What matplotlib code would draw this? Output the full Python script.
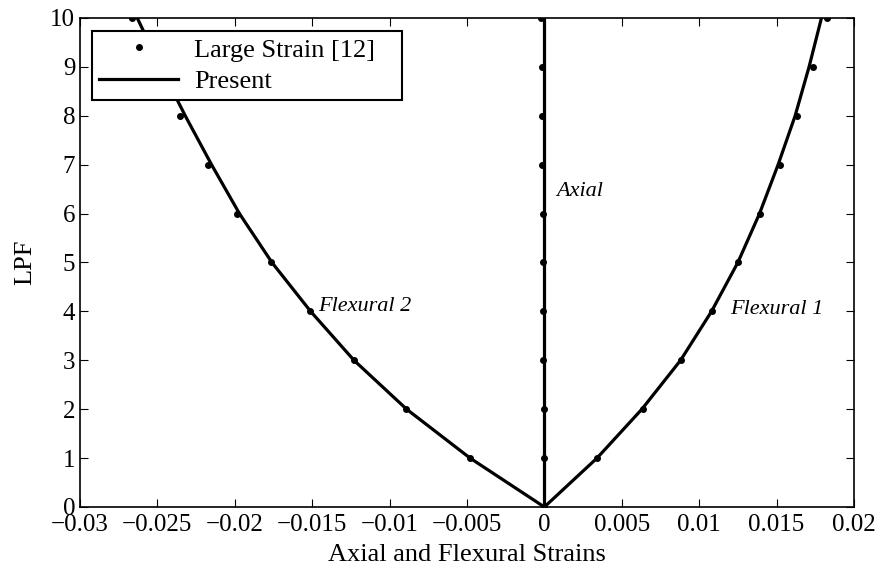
import numpy as np
import matplotlib.pyplot as plt

plt.rcParams['font.family'] = ['Liberation Serif', 'DejaVu Serif']
plt.rcParams['mathtext.fontset'] = 'stix'

# load proportionality factor
lpf = [0, 1, 2, 3, 4, 5, 6, 7, 8, 9, 10]

# Large Strain [12] reference points
ref_flex1 = [0, 0.00338, 0.00635, 0.00882, 0.01085, 0.01253, 0.01395, 0.0152, 0.01634, 0.01737, 0.01828]
ref_flex2 = [0, -0.0048, -0.00894, -0.0123, -0.01514, -0.01766, -0.01986, -0.02173, -0.02354, -0.0251, -0.02664]
ref_axial = [0, -0.00002, -0.00004, -0.00006, -0.00008, -0.0001, -0.00012, -0.00014, -0.00016, -0.00018, -0.0002]

# present formulation
pre_flex1 = [0, 0.0034, 0.0063, 0.0088, 0.0108, 0.0125, 0.0139, 0.0151, 0.0162, 0.0171, 0.0179]
pre_flex2 = [0, -0.0048, -0.0089, -0.0123, -0.0151, -0.0176, -0.0197, -0.0215, -0.0232, -0.0248, -0.0263]
pre_axial = [0, 0, 0, 0, 0, 0, 0, 0, 0, 0, 0]

xticks = [-0.03, -0.025, -0.02, -0.015, -0.01, -0.005, 0, 0.005, 0.01, 0.015, 0.02]
xticklabels = ['\u22120.03', '\u22120.025', '\u22120.02', '\u22120.015', '\u22120.01', '\u22120.005',
               '0', '0.005', '0.01', '0.015', '0.02']

fig = plt.figure(figsize=(8.84, 5.73), dpi=100)
ax = fig.add_axes([0.0905, 0.1152, 0.8755, 0.8534])

ax.plot(ref_flex1, lpf, 'k.', markersize=8, label='Large Strain [12]')
ax.plot(ref_flex2, lpf, 'k.', markersize=8)
ax.plot(ref_axial, lpf, 'k.', markersize=8)
ax.plot(pre_flex1, lpf, 'k-', lw=2.3, label='Present')
ax.plot(pre_flex2, lpf, 'k-', lw=2.3)
ax.plot(pre_axial, lpf, 'k-', lw=2.3)

ax.text(0.00075, 6.46, 'Axial', fontsize=16, style='italic', va='center')
ax.text(0.0120, 4.03, 'Flexural 1', fontsize=16, style='italic', va='center')
ax.text(-0.0146, 4.09, 'Flexural 2', fontsize=16, style='italic', va='center')

ax.set_xlim(-0.03, 0.02)
ax.set_ylim(0, 10)
ax.set_xticks(xticks)
ax.set_xticklabels(xticklabels)
ax.set_yticks(lpf)
ax.tick_params(direction='in', top=True, right=True, length=6, labelsize=18)
ax.tick_params(axis='x', pad=5)
for s in ax.spines.values():
    s.set_linewidth(1.2)

ax.set_xlabel('Axial and Flexural Strains', fontsize=19, labelpad=6)
ax.set_ylabel('LPF', fontsize=19, labelpad=10)

leg = ax.legend(loc='upper left', bbox_to_anchor=(0.0155, 0.0, 0.4005, 0.9734), mode='expand',
                fontsize=19, frameon=True, fancybox=False, borderpad=0.27, handlelength=3.0,
                handletextpad=0.6, labelspacing=0.3, borderaxespad=0, numpoints=1)
leg.get_frame().set_edgecolor('black')
leg.get_frame().set_linewidth(1.5)
leg.get_frame().set_alpha(1)

plt.savefig('out.png', dpi=100)
